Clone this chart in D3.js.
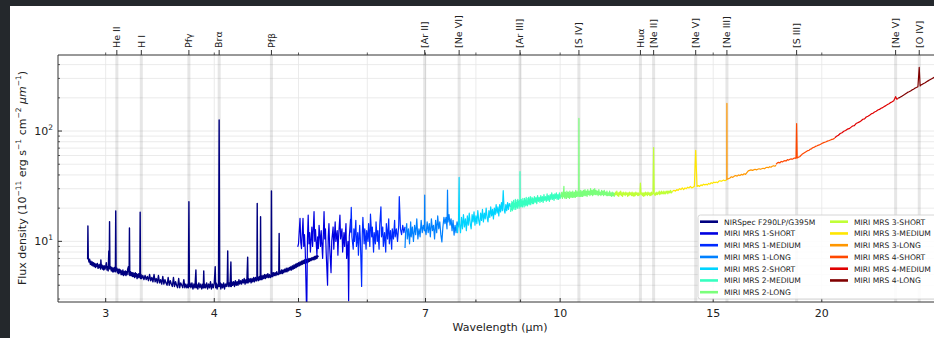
<!DOCTYPE html>
<html>
<head>
<meta charset="utf-8">
<script src="https://cdn.jsdelivr.net/npm/d3@7"></script>
<style>
  html, body { margin: 0; padding: 0; background: #24282c; }
  svg { display: block; font-family: "DejaVu Sans", sans-serif; }
</style>
</head>
<body>
<svg id="chart" width="934" height="338"></svg>
<script>
// spectrum segments, [wavelength µm, flux density 1e-11 erg/s/cm2/µm]
const nirspec = [
  [2.860,6.9],[2.862,13.8],[2.865,7.0],[2.87,6.5],[2.875,6.9],[2.88,6.2],[2.885,6.6],[2.89,6.1],[2.895,6.5],[2.90,6.0],
  [2.905,6.4],[2.91,5.9],[2.915,6.3],[2.92,5.8],[2.925,6.2],[2.93,5.9],[2.935,6.3],[2.94,5.7],[2.945,6.1],[2.95,5.8],
  [2.955,6.2],[2.96,5.6],[2.962,6.8],[2.966,5.8],[2.97,6.1],[2.975,5.6],[2.98,6.0],[2.985,5.5],[2.99,6.0],[2.995,5.6],
  [3.00,5.9],[3.005,6.4],[3.01,5.5],[3.015,5.9],[3.02,5.4],[3.025,8.2],[3.028,5.7],[3.031,15.1],[3.034,5.6],[3.04,5.9],
  [3.045,5.4],[3.05,5.8],[3.055,5.3],[3.06,5.7],[3.065,5.3],[3.07,5.8],[3.078,5.3],[3.081,18.9],[3.084,5.4],[3.09,5.7],
  [3.095,5.2],[3.10,5.6],[3.105,5.1],[3.11,5.6],[3.115,5.2],[3.12,5.5],[3.125,5.0],[3.13,5.4],[3.135,5.0],[3.14,5.5],
  [3.145,4.9],[3.15,5.3],[3.155,5.0],[3.16,5.4],[3.165,4.9],[3.17,5.3],[3.175,5.0],[3.18,5.6],[3.186,5.9],[3.192,5.0],
  [3.195,13.2],[3.198,4.9],[3.205,5.3],[3.21,4.9],[3.215,5.2],[3.22,4.8],[3.225,5.2],[3.23,4.8],[3.235,5.1],[3.24,4.7],
  [3.245,5.2],[3.25,4.8],[3.255,5.1],[3.26,4.6],[3.265,5.0],[3.27,4.7],[3.275,5.1],[3.284,4.7],[3.287,18.4],[3.290,4.6],
  [3.295,5.0],[3.30,4.6],[3.31,4.9],[3.32,4.5],[3.33,4.9],[3.34,4.5],[3.35,4.8],[3.36,4.4],[3.37,5.0],[3.38,4.4],
  [3.39,4.7],[3.40,4.3],[3.41,5.0],[3.42,4.3],[3.43,4.6],[3.44,4.2],[3.45,4.9],[3.46,4.2],[3.47,4.5],[3.48,4.1],
  [3.49,4.8],[3.50,4.1],[3.51,4.5],[3.52,4.2],[3.53,4.0],[3.54,4.7],[3.55,4.0],[3.56,4.4],[3.57,4.1],[3.58,3.9],
  [3.59,4.7],[3.60,3.9],[3.61,4.3],[3.62,4.0],[3.63,3.8],[3.64,4.6],[3.65,3.8],[3.66,4.2],[3.67,4.0],[3.68,3.8],
  [3.69,4.5],[3.70,3.8],[3.71,4.1],[3.72,3.8],[3.73,4.1],[3.735,3.8],[3.740,22.9],[3.745,3.9],[3.75,4.2],[3.76,3.8],
  [3.77,4.2],[3.78,3.7],[3.79,4.1],[3.80,3.8],[3.81,5.5],[3.815,3.8],[3.82,4.1],[3.83,3.7],[3.84,4.2],[3.85,3.8],
  [3.86,4.1],[3.87,3.7],[3.88,4.1],[3.885,3.8],[3.89,5.4],[3.895,3.8],[3.90,4.1],[3.91,3.8],[3.92,4.2],[3.93,3.7],
  [3.94,4.1],[3.95,3.8],[3.96,4.3],[3.97,3.7],[3.98,4.1],[3.99,3.8],[4.00,4.2],[4.01,5.9],[4.015,3.8],[4.02,4.2],
  [4.03,3.7],[4.04,4.1],[4.045,3.9],[4.052,125.8],[4.058,3.9],[4.065,4.2],[4.07,3.7],[4.08,4.1],[4.09,3.8],[4.10,4.2],
  [4.11,3.7],[4.12,4.1],[4.13,3.9],[4.14,4.3],[4.145,8.2],[4.15,3.9],[4.16,4.2],[4.17,3.9],[4.18,6.5],[4.185,3.9],
  [4.19,4.3],[4.20,4.0],[4.21,4.3],[4.22,3.9],[4.23,4.4],[4.24,4.0],[4.25,4.3],[4.26,4.0],[4.27,4.5],[4.28,4.1],
  [4.29,4.4],[4.30,4.1],[4.31,4.5],[4.32,4.2],[4.33,4.6],[4.34,4.1],[4.35,4.5],[4.36,4.2],[4.37,7.2],[4.375,4.2],
  [4.38,4.6],[4.39,4.3],[4.40,4.6],[4.41,4.2],[4.42,4.6],[4.43,4.3],[4.44,4.7],[4.45,4.3],[4.46,4.7],[4.47,4.4],
  [4.478,4.4],[4.482,22.1],[4.486,4.5],[4.49,4.8],[4.50,4.4],[4.51,4.8],[4.518,4.5],[4.522,16.7],[4.526,4.5],[4.53,4.9],
  [4.54,4.5],[4.55,4.9],[4.56,4.6],[4.57,5.0],[4.58,4.6],[4.59,5.0],[4.60,4.7],[4.61,5.1],[4.62,4.7],[4.63,5.0],
  [4.64,4.7],[4.650,4.8],[4.654,28.6],[4.658,4.8],[4.665,5.2],[4.67,4.8],[4.68,5.2],[4.69,4.9],[4.70,5.2],[4.71,4.9],
  [4.72,5.3],[4.73,5.0],[4.745,5.0],[4.75,11.8],[4.755,5.1],[4.76,5.4],[4.77,5.1],[4.78,5.5],[4.79,5.1],[4.80,5.5],
  [4.81,5.2],[4.82,5.6],[4.83,5.3],[4.84,5.7],[4.85,5.3],[4.86,5.7],[4.87,5.4],[4.88,5.8],[4.89,5.5],[4.90,5.9],
  [4.91,5.5],[4.92,6.0],[4.93,5.6],[4.94,6.1],[4.95,5.7],[4.96,6.2],[4.97,5.8],[4.98,6.3],[4.99,5.9],[5.00,6.4],
  [5.01,6.0],[5.02,6.5],[5.03,6.1],[5.04,6.6],[5.05,6.2],[5.06,6.7],[5.07,6.3],[5.08,6.8],[5.09,6.3],[5.10,6.9],
  [5.11,6.4],[5.12,6.9],[5.13,6.5],[5.14,7.0],[5.15,6.6],[5.16,7.0],[5.17,6.7],[5.18,7.1],[5.19,6.8],[5.20,7.2],
  [5.21,6.8],[5.22,7.3],[5.23,6.9],[5.24,7.4],[5.25,7.0],[5.26,7.4],[5.27,7.2]
];
const mrs1Short = [
  [4.99,8.9],[5.00,9.5],[5.02,16.2],[5.03,9.8],[5.04,8.6],[5.06,16.2],[5.07,9.0],[5.08,11.5],[5.09,8.4],[5.11,2.0],
  [5.12,10.5],[5.13,17.3],[5.14,9.5],[5.15,12.0],[5.16,8.0],[5.18,13.5],[5.19,9.0],[5.21,18.6],[5.22,10.0],[5.23,12.8],
  [5.25,7.5],[5.26,11.0],[5.27,8.6],[5.28,14.0],[5.30,9.0],[5.31,12.5],[5.33,7.0],[5.35,18.6],[5.36,10.5],[5.37,13.0],
  [5.38,8.0],[5.40,4.0],[5.41,11.0],[5.42,14.5],[5.43,9.0],[5.45,5.2],[5.46,10.0],[5.48,13.5],[5.49,8.5],[5.51,15.0],
  [5.52,10.0],[5.54,12.5],[5.55,7.5],[5.56,11.0],[5.58,17.3],[5.59,10.5],[5.61,13.0],[5.62,8.0],[5.64,12.0],[5.65,9.0],
  [5.67,14.5],[5.68,7.0],[5.70,10.0],[5.71,2.9],[5.72,11.0],[5.74,16.0]
];
const mrs1Medium = [
  [5.74,12.0],[5.75,20.3],[5.76,11.0],[5.78,8.5],[5.79,13.0],[5.80,10.0],[5.82,15.5],[5.83,9.0],[5.85,12.0],[5.86,7.5],
  [5.88,14.0],[5.89,10.5],[5.91,3.9],[5.92,11.5],[5.93,16.5],[5.95,9.5],[5.96,13.0],[5.98,8.5],[5.99,12.5],[6.01,10.0],
  [6.02,14.5],[6.04,9.0],[6.05,17.7],[6.07,11.0],[6.08,13.5],[6.10,8.0],[6.11,12.0],[6.13,9.5],[6.14,15.0],[6.16,10.0],
  [6.17,12.5],[6.19,8.5],[6.20,14.0],[6.22,20.6],[6.23,11.0],[6.25,13.5],[6.26,9.0],[6.28,12.0],[6.30,8.0],[6.31,14.5],
  [6.33,10.5],[6.35,16.0],[6.36,9.5],[6.38,12.5],[6.40,8.5],[6.41,13.0],[6.43,10.5],[6.45,15.5],[6.46,11.0],[6.48,13.0],
  [6.50,10.0],[6.52,14.0],[6.53,25.4],[6.55,13.0],[6.57,11.5],[6.59,14.0],[6.61,12.0],[6.63,13.5]
];
const mrs1Long = [
  [6.63,8.7],[6.64,12.0],[6.66,14.5],[6.67,10.5],[6.69,13.0],[6.71,9.5],[6.73,15.0],[6.74,11.0],[6.76,13.5],[6.78,10.0],
  [6.80,14.0],[6.82,11.5],[6.84,16.0],[6.86,10.5],[6.88,13.0],[6.90,11.0],[6.92,15.5],[6.94,12.0],[6.96,14.0],[6.98,12.5],
  [6.985,26.3],[6.99,13.0],[7.01,11.5],[7.03,15.0],[7.05,12.0],[7.07,14.5],[7.09,11.0],[7.11,16.0],[7.13,12.5],[7.15,14.0],
  [7.17,10.5],[7.19,15.5],[7.21,12.0],[7.23,17.0],[7.25,13.0],[7.27,15.0],[7.29,11.5],[7.31,9.9],[7.33,13.5],[7.35,16.5],
  [7.37,14.5],[7.39,16.5],[7.41,13.0],[7.42,29.2],[7.43,15.0],[7.45,17.5],[7.47,14.0],[7.49,16.0],[7.51,12.5],[7.53,15.5],
  [7.55,11.4],[7.57,14.0],[7.59,12.0],[7.61,15.0],[7.63,13.5],[7.65,16.0]
];
const mrs2Short = [
  [7.60,14.0],[7.62,12.0],[7.64,15.5],[7.652,38.0],[7.66,14.5],[7.68,12.0],[7.70,16.5],[7.72,13.0],[7.74,17.5],[7.76,13.5],
  [7.78,16.0],[7.80,12.5],[7.82,17.0],[7.84,14.0],[7.86,18.0],[7.88,14.5],[7.90,13.0],[7.92,17.5],[7.94,15.0],[7.96,18.5],
  [7.98,14.0],[8.00,17.0],[8.02,14.5],[8.04,19.0],[8.06,15.5],[8.08,14.0],[8.10,18.0],[8.12,15.5],[8.14,19.5],[8.16,15.0],
  [8.18,18.0],[8.20,16.0],[8.22,20.0],[8.24,16.5],[8.26,15.0],[8.28,19.0],[8.30,16.5],[8.32,20.5],[8.34,17.0],[8.36,19.5],
  [8.38,16.0],[8.40,20.0],[8.42,17.5],[8.44,21.5],[8.46,18.0],[8.48,20.5],[8.50,17.0],[8.52,21.5],[8.54,18.5],[8.56,22.5],
  [8.58,19.0],[8.60,28.8],[8.62,19.5],[8.64,18.0],[8.66,21.5],[8.68,19.0],[8.70,22.5],[8.72,19.5],[8.74,22.0],[8.77,20.5]
];
const mrs2Medium = [
  [8.77,18.5],[8.78,22.0],[8.79,19.5],[8.80,23.0],[8.81,19.0],[8.82,22.5],[8.83,20.0],[8.84,23.5],[8.85,19.5],[8.86,22.0],
  [8.87,20.5],[8.88,24.0],[8.89,19.5],[8.90,22.5],[8.91,20.5],[8.92,23.5],[8.93,20.0],[8.94,24.0],[8.95,21.0],[8.96,23.0],
  [8.97,20.0],[8.98,23.5],[8.99,21.0],[8.991,42.8],[8.995,21.5],[9.00,23.5],[9.01,20.5],[9.02,24.0],[9.03,21.0],[9.04,23.0],
  [9.05,20.5],[9.06,24.5],[9.07,21.5],[9.08,23.0],[9.09,20.5],[9.10,24.5],[9.11,21.5],[9.12,23.5],[9.13,21.0],[9.14,25.0],
  [9.15,21.5],[9.16,23.0],[9.17,21.0],[9.18,24.5],[9.19,22.0],[9.20,25.0],[9.21,21.5],[9.22,24.0],[9.23,22.0],[9.24,25.5],
  [9.25,21.5],[9.26,24.0],[9.27,22.5],[9.28,25.0],[9.29,22.0],[9.30,24.5],[9.32,22.0],[9.34,25.5],[9.36,22.5],[9.38,25.0],
  [9.40,22.0],[9.42,26.0],[9.44,23.0],[9.46,25.0],[9.48,22.5],[9.50,26.0],[9.52,23.0],[9.54,25.5],[9.56,22.5],[9.58,26.5],
  [9.60,23.5],[9.62,25.5],[9.64,23.0],[9.66,27.0],[9.68,23.5],[9.70,26.0],[9.72,23.0],[9.74,26.5],[9.76,24.0],[9.78,27.5],
  [9.80,24.0],[9.82,26.5],[9.84,23.5],[9.86,27.0],[9.88,24.5],[9.90,27.5],[9.92,24.0],[9.94,26.5],[9.96,24.0],[9.98,27.5],
  [10.00,24.5],[10.02,26.5]
];
const mrs2Long = [
  [10.02,25.0],[10.03,27.5],[10.04,25.5],[10.05,28.0],[10.06,24.5],[10.07,27.0],[10.08,25.5],[10.09,28.5],[10.10,31.5],[10.11,25.0],
  [10.12,27.5],[10.13,24.5],[10.14,28.0],[10.15,25.5],[10.16,27.0],[10.17,24.5],[10.18,28.5],[10.19,25.5],[10.20,27.5],[10.21,25.0],
  [10.22,28.0],[10.23,25.0],[10.24,27.0],[10.25,24.5],[10.26,28.5],[10.27,25.5],[10.28,27.5],[10.29,25.0],[10.30,28.0],[10.31,25.5],
  [10.32,27.5],[10.33,25.0],[10.34,28.5],[10.35,25.5],[10.36,27.0],[10.37,25.0],[10.38,28.0],[10.39,25.5],[10.40,27.5],[10.41,25.0],
  [10.42,29.0],[10.43,25.5],[10.44,27.5],[10.45,25.5],[10.46,28.5],[10.47,26.0],[10.48,27.5],[10.49,25.5],[10.50,28.0],[10.505,26.5],
  [10.51,130],[10.515,27.0],[10.52,28.5],[10.53,25.5],[10.54,27.5],[10.55,25.5],[10.56,29.0],[10.57,26.0],[10.58,27.5],[10.59,25.5],
  [10.60,28.5],[10.62,25.5],[10.64,29.0],[10.66,26.0],[10.68,29.5],[10.70,26.0],[10.72,28.5],[10.74,25.5],[10.76,29.5],[10.78,26.5],
  [10.80,28.5],[10.82,26.0],[10.84,30.0],[10.86,26.5],[10.88,29.0],[10.90,26.0],[10.92,29.5],[10.94,26.5],[10.96,30.0],[10.98,26.5],
  [11.00,29.0],[11.02,26.5],[11.04,28.5],[11.06,26.0],[11.08,29.5],[11.10,26.5],[11.12,28.0],[11.14,26.0],[11.16,29.0],[11.18,26.5],
  [11.20,28.5],[11.22,26.0],[11.24,29.0],[11.26,26.5],[11.28,28.0],[11.30,26.0],[11.32,28.5],[11.34,26.0],[11.36,27.5],[11.38,26.0],
  [11.40,28.5],[11.42,26.0],[11.44,27.5],[11.46,25.5],[11.48,28.0],[11.50,26.0],[11.52,27.5],[11.54,25.5],[11.56,27.5]
];
const mrs3Short = [
  [11.56,26.0],[11.58,28.0],[11.60,26.5],[11.62,28.5],[11.64,26.0],[11.66,27.5],[11.68,25.5],[11.70,28.0],[11.72,26.5],[11.74,28.5],
  [11.76,26.0],[11.78,27.5],[11.80,25.5],[11.82,28.0],[11.84,26.5],[11.86,27.5],[11.88,26.0],[11.90,28.0],[11.92,26.5],[11.94,27.5],
  [11.96,25.5],[11.98,27.5],[12.00,26.0],[12.02,28.0],[12.04,26.5],[12.06,27.5],[12.08,26.0],[12.10,28.0],[12.12,26.0],[12.14,27.5],
  [12.16,25.5],[12.18,27.5],[12.20,26.0],[12.22,28.0],[12.24,26.5],[12.26,27.5],[12.28,26.0],[12.30,27.5],[12.32,26.0],[12.35,27.0],
  [12.37,33.8],[12.39,26.5],[12.42,27.5],[12.44,26.0],[12.46,27.5],[12.48,25.5],[12.50,27.5],[12.52,26.0],[12.54,28.0],[12.56,26.5],
  [12.58,27.5],[12.60,26.0],[12.62,28.0],[12.64,26.5],[12.66,27.5],[12.68,26.0],[12.70,27.5],[12.72,26.0],[12.74,28.0],[12.76,26.5],
  [12.79,27.0],[12.81,70.6],[12.83,27.0],[12.86,26.0],[12.88,27.5],[12.90,26.5],[12.92,28.0],[12.94,26.5],[12.96,27.5],[12.98,27.0],
  [13.00,28.5],[13.02,26.5],[13.04,28.0],[13.06,27.0],[13.08,28.5],[13.10,27.0],[13.12,28.0],[13.14,27.0],[13.16,28.5],[13.18,27.0],
  [13.20,28.0],[13.22,27.0],[13.24,28.5],[13.26,27.5],[13.28,28.5],[13.30,27.0],[13.32,28.5],[13.34,27.5],[13.36,28.5],[13.38,27.5],
  [13.40,29.0],[13.43,27.5],[13.47,28.5]
];
const mrs3Medium = [
  [13.47,28.5],[13.52,29.0],[13.57,28.5],[13.62,29.5],[13.67,29.0],[13.72,30.0],[13.77,29.5],[13.82,30.5],[13.87,29.5],[13.92,30.5],
  [13.97,30.0],[14.02,31.0],[14.07,30.5],[14.12,31.5],[14.17,30.5],[14.22,31.0],[14.27,31.5],[14.32,67.0],[14.37,31.5],[14.42,32.0],
  [14.47,31.5],[14.52,32.5],[14.57,32.0],[14.62,33.0],[14.67,32.5],[14.72,33.0],[14.77,32.5],[14.82,33.5],[14.87,33.0],[14.92,34.0],
  [14.97,33.5],[15.02,34.5],[15.07,34.0],[15.12,34.5],[15.17,34.0],[15.22,35.0],[15.27,35.5],[15.32,35.0],[15.37,35.5],[15.42,36.0],
  [15.47,35.5],[15.55,36.0]
];
const mrs3Long = [
  [15.55,36.0],[15.555,178],[15.56,36.5],[15.62,37.0],[15.68,37.5],[15.74,38.5],[15.80,38.0],[15.86,39.0],[15.92,39.5],[15.98,39.0],
  [16.04,40.0],[16.10,39.5],[16.16,40.5],[16.22,40.0],[16.28,41.0],[16.34,40.5],[16.40,42.0],[16.46,43.5],[16.52,44.0],[16.58,44.5],
  [16.64,44.0],[16.70,44.5],[16.76,45.0],[16.82,44.5],[16.88,45.0],[16.94,45.5],[17.00,45.0],[17.06,45.5],[17.12,46.0],[17.18,45.5],
  [17.24,46.5],[17.30,47.0],[17.36,46.5],[17.42,47.5],[17.48,47.0],[17.54,48.0],[17.60,48.5],[17.66,48.0],[17.72,49.0]
];
const mrs4Short = [
  [17.72,50.0],[17.78,51.5],[17.84,52.0],[17.90,51.5],[17.96,53.0],[18.02,52.5],[18.08,53.5],[18.14,54.0],[18.20,53.5],[18.26,55.0],
  [18.32,54.5],[18.38,55.5],[18.44,56.0],[18.50,55.5],[18.56,56.5],[18.62,57.0],[18.68,56.5],[18.71,117],[18.74,57.0],[18.80,58.0],
  [18.86,58.5],[18.92,60.0],[18.98,61.5],[19.04,62.5],[19.10,63.5],[19.16,64.5],[19.22,65.5],[19.28,66.5],[19.34,67.0],[19.40,68.5],
  [19.46,69.0],[19.52,70.5],[19.58,71.0],[19.64,72.0],[19.70,73.0],[19.76,73.5],[19.82,74.5],[19.88,75.0],[19.94,76.0],[20.00,77.0],
  [20.10,78.5],[20.20,79.5],[20.30,81.0],[20.40,82.0],[20.50,83.5],[20.60,84.5],[20.70,86.0]
];
const mrs4Medium = [
  [20.70,87.0],[20.80,89.5],[20.90,91.5],[21.00,95.0],[21.10,96.5],[21.20,99.5],[21.30,101],[21.40,104],[21.50,105],[21.60,108],
  [21.70,111],[21.80,112],[21.90,117],[22.00,119],[22.10,121],[22.20,124],[22.30,128],[22.40,129],[22.50,134],[22.60,136],
  [22.70,139],[22.80,143],[22.90,145],[23.00,149],[23.10,151],[23.20,155],[23.30,157],[23.40,161],[23.50,163],[23.60,167],
  [23.70,170],[23.80,174],[23.90,177],[24.00,181],[24.10,184],[24.20,188],[24.32,205],[24.40,194],[24.48,197]
];
const mrs4Long = [
  [24.48,198],[24.6,202],[24.7,206],[24.8,210],[24.9,214],[25.0,219],[25.1,224],[25.2,227],[25.3,231],[25.4,236],
  [25.5,239],[25.6,245],[25.7,248],[25.8,252],[25.89,378],[25.95,256],[26.0,261],[26.1,265],[26.2,270],[26.3,274],
  [26.4,280],[26.5,285],[26.6,290],[26.7,295],[26.8,300],[26.9,305],[27.0,310],[27.2,320],[27.4,330],[27.6,340]
];

const segmentNames = [
  "NIRSpec F290LP/G395M", "MIRI MRS 1-SHORT", "MIRI MRS 1-MEDIUM", "MIRI MRS 1-LONG",
  "MIRI MRS 2-SHORT", "MIRI MRS 2-MEDIUM", "MIRI MRS 2-LONG", "MIRI MRS 3-SHORT",
  "MIRI MRS 3-MEDIUM", "MIRI MRS 3-LONG", "MIRI MRS 4-SHORT", "MIRI MRS 4-MEDIUM", "MIRI MRS 4-LONG"
];
const segmentData = [nirspec, mrs1Short, mrs1Medium, mrs1Long, mrs2Short, mrs2Medium, mrs2Long,
  mrs3Short, mrs3Medium, mrs3Long, mrs4Short, mrs4Medium, mrs4Long];
// jet colormap sampled at 13 steps
const segmentColors = ["#000080", "#0000e0", "#002aff", "#0080ff", "#00d4ff", "#37ffc0", "#7bff7b",
  "#c0ff37", "#ffe600", "#ff9700", "#ff4800", "#e00000", "#800000"];

// emission lines on the top axis
const lineNames = ["He II", "H I", "Pfγ", "Brα", "Pfβ", "[Ar II]", "[Ne VI]", "[Ar III]", "[S IV]",
  "Huα", "[Ne II]", "[Ne V]", "[Ne III]", "[S III]", "[Ne V]", "[O IV]"];
const lineWaves = [3.09, 3.297, 3.74, 4.052, 4.654, 6.985, 7.652, 8.991, 10.51,
  12.37, 12.81, 14.32, 15.555, 18.71, 24.32, 25.89];

const xTicks = [3, 4, 5, 6, 7, 8, 9, 10, 15, 20];
const xTickLabels = [3, 4, 5, 7, 10, 15, 20];
const yMajor = [10, 100];
const yMinor = [3, 4, 5, 6, 7, 8, 9, 20, 30, 40, 50, 60, 70, 80, 90, 200, 300, 400];

const svg = d3.select("#chart");
const pLeft = 58, pRight = 942, pTop = 55, pBottom = 302;

// white figure panel on dark page
svg.append("rect").attr("x", 10).attr("y", 6).attr("width", 924).attr("height", 332).attr("fill", "#fff");

const x = d3.scaleLog().domain([2.644, 27.5]).range([pLeft, pRight]);
const y = d3.scaleLog().domain([2.82, 489]).range([pBottom, pTop]);

svg.append("clipPath").attr("id", "plotclip")
  .append("rect").attr("x", pLeft).attr("y", pTop).attr("width", pRight - pLeft).attr("height", pBottom - pTop);

const grid = svg.append("g").attr("clip-path", "url(#plotclip)");
grid.selectAll(".gx").data(xTicks).enter().append("line")
  .attr("x1", d => x(d)).attr("x2", d => x(d)).attr("y1", pTop).attr("y2", pBottom)
  .attr("stroke", "#e6e6e6").attr("stroke-width", 0.8);
grid.selectAll(".gy").data(yMajor.concat(yMinor)).enter().append("line")
  .attr("x1", pLeft).attr("x2", pRight).attr("y1", d => y(d)).attr("y2", d => y(d))
  .attr("stroke", "#e6e6e6").attr("stroke-width", 0.8);

// grey bands at line wavelengths
grid.selectAll(".band").data(lineWaves).enter().append("line")
  .attr("x1", d => x(d)).attr("x2", d => x(d)).attr("y1", pTop).attr("y2", pBottom)
  .attr("stroke", "#808080").attr("stroke-opacity", 0.2).attr("stroke-width", 3);

const line = d3.line().x(d => x(d[0])).y(d => y(d[1]));
const plot = svg.append("g").attr("clip-path", "url(#plotclip)");
segmentData.forEach((seg, i) => {
  plot.append("path").datum(seg).attr("d", line)
    .attr("fill", "none").attr("stroke", segmentColors[i])
    .attr("stroke-width", i === 0 ? 1.4 : 1.2).attr("stroke-linejoin", "round");
});

// spines
const ax = svg.append("g").attr("stroke", "#333").attr("stroke-width", 1);
ax.append("line").attr("x1", pLeft).attr("x2", pRight).attr("y1", pBottom).attr("y2", pBottom);
ax.append("line").attr("x1", pLeft).attr("x2", pRight).attr("y1", pTop).attr("y2", pTop);
ax.append("line").attr("x1", pLeft).attr("x2", pLeft).attr("y1", pTop).attr("y2", pBottom);

// bottom ticks (inward) and top mirrored minor ticks (outward)
ax.selectAll(".xt").data(xTicks).enter().append("line")
  .attr("x1", d => x(d)).attr("x2", d => x(d)).attr("y1", pBottom)
  .attr("y2", d => pBottom - (xTickLabels.includes(d) ? 4 : 2.5));
ax.selectAll(".xtt").data(xTicks).enter().append("line")
  .attr("x1", d => x(d)).attr("x2", d => x(d)).attr("y1", pTop).attr("y2", pTop - 2.5)
  .attr("stroke-width", 0.8);
svg.selectAll(".xl").data(xTickLabels).enter().append("text")
  .attr("x", d => x(d)).attr("y", 317).attr("text-anchor", "middle")
  .attr("font-size", 11).attr("fill", "#222").text(d => d);

// left ticks (inward)
ax.selectAll(".ytM").data(yMajor).enter().append("line")
  .attr("x1", pLeft).attr("x2", pLeft + 4).attr("y1", d => y(d)).attr("y2", d => y(d));
ax.selectAll(".ytm").data(yMinor).enter().append("line")
  .attr("x1", pLeft).attr("x2", pLeft + 2).attr("y1", d => y(d)).attr("y2", d => y(d)).attr("stroke-width", 0.8);
yMajor.forEach(v => {
  const t = svg.append("text").attr("x", 53).attr("y", y(v) + 4).attr("text-anchor", "end")
    .attr("font-size", 11).attr("fill", "#222");
  t.append("tspan").text("10");
  t.append("tspan").attr("dy", -5).attr("font-size", 7.5).text(Math.round(Math.log10(v)));
});

// emission line ticks and labels on top
ax.selectAll(".lt").data(lineWaves).enter().append("line")
  .attr("x1", d => x(d)).attr("x2", d => x(d)).attr("y1", pTop).attr("y2", pTop - 5);
svg.selectAll(".ll").data(lineNames).enter().append("text")
  .attr("transform", (d, i) => `translate(${x(lineWaves[i])},${pTop - 7}) rotate(-90)`)
  .attr("dy", "0.35em").attr("font-size", 9.5).attr("fill", "#222").text(d => d);

// axis labels
svg.append("text").attr("x", 500).attr("y", 331).attr("text-anchor", "middle")
  .attr("font-size", 11).attr("fill", "#222").text("Wavelength (µm)");

const yl = svg.append("text").attr("transform", "translate(26,178) rotate(-90)")
  .attr("text-anchor", "middle").attr("font-size", 11).attr("fill", "#222");
const parts = [["Flux density (10", 0], ["−11", 1], [" erg s", 0], ["−1", 1], [" cm", 0], ["−2", 1],
  [" ", 0], ["μm", 2], ["−1", 1], [")", 0]];
let raised = false;
parts.forEach(([s, k]) => {
  const ts = yl.append("tspan").text(s);
  if (k === 1) { ts.attr("dy", -5).attr("font-size", 7.5); raised = true; }
  else {
    if (raised) { ts.attr("dy", 5); raised = false; }
    if (k === 2) ts.attr("font-style", "italic");
  }
});

// legend
const lg = svg.append("g");
lg.append("rect").attr("x", 698).attr("y", 215).attr("width", 262).attr("height", 84)
  .attr("rx", 2.5).attr("fill", "#fff").attr("fill-opacity", 0.85).attr("stroke", "#ccc").attr("stroke-width", 0.8);
segmentNames.forEach((name, i) => {
  const col = i < 7 ? 0 : 1;
  const row = i < 7 ? i : i - 7;
  const lx = col === 0 ? 700 : 830;
  const ly = 221.7 + row * 11.75;
  lg.append("line").attr("x1", lx).attr("x2", lx + 18).attr("y1", ly).attr("y2", ly)
    .attr("stroke", segmentColors[i]).attr("stroke-width", 2.6);
  lg.append("text").attr("x", lx + 24).attr("y", ly + 3).attr("font-size", 7.6)
    .attr("fill", "#222").text(name);
});
</script>
</body>
</html>
